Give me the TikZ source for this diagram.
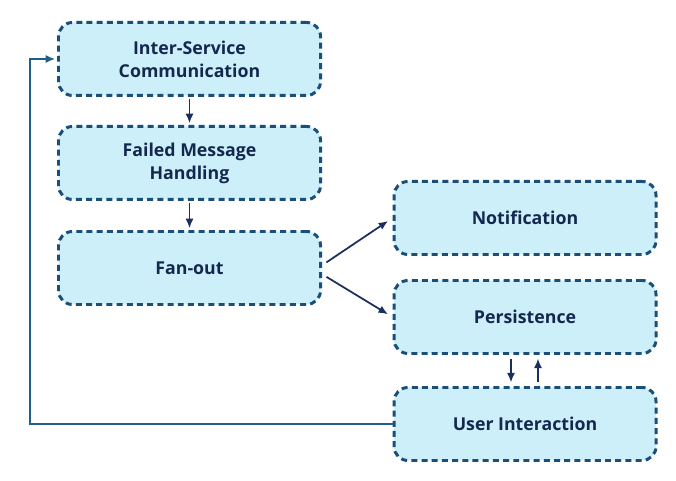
\documentclass[tikz,border=0pt]{standalone}
\usepackage{fontspec}
\setmainfont{Open Sans}
\usetikzlibrary{positioning,arrows.meta,calc}
\definecolor{boxfill}{HTML}{CCEFF9}
\definecolor{boxline}{HTML}{1A4F7A}
\definecolor{textnavy}{HTML}{14284F}
\definecolor{arrownavy}{HTML}{1B2F5E}
\definecolor{loopblue}{HTML}{1F5F8C}

\tikzset{
  stagebox/.style={rounded corners=0.28cm, fill=boxfill, draw=boxline, line width=1.7pt,
    dash pattern=on 3.4pt off 2.4pt, minimum width=5.24cm, minimum height=1.46cm,
    align=center, text=textnavy, font=\fontsize{10.1}{13}\selectfont\bfseries},
  flow/.style={draw=arrownavy, line width=1pt, -{Latex[length=1.9mm,width=1.6mm]}}
}

\begin{document}
\begin{tikzpicture}[x=1cm,y=1cm]
\useasboundingbox (0,0) rectangle (13.52,9.62);
% left column
\node[stagebox] (isc) at (3.79,8.44) {Inter-Service\\Communication};
\node[stagebox] (fmh) at (3.79,6.36) {Failed Message\\Handling};
\node[stagebox] (fan) at (3.79,4.26) {Fan-out};
% right column
\node[stagebox] (notif) at (10.5,5.26) {Notification};
\node[stagebox] (pers) at (10.5,3.28) {Persistence};
\node[stagebox] (user) at (10.5,1.14) {User Interaction};
\coordinate (loop) at (0.6,1.14);

\draw[flow, shorten <=1pt, shorten >=1pt] (isc) -- (fmh);
\draw[flow, shorten <=1pt, shorten >=1pt] (fmh) -- (fan);
\draw[flow, shorten <=3pt, shorten >=3pt] ([yshift=1.5pt]fan.east) -- (notif.west);
\draw[flow, shorten <=3pt, shorten >=3pt] ([yshift=-3.5pt]fan.east) -- (pers.west);
\draw[flow, shorten <=2pt, shorten >=2pt] ([xshift=-0.28cm]pers.south) -- ([xshift=-0.28cm]user.north);
\draw[flow, shorten <=2pt, shorten >=2pt] ([xshift=0.26cm]user.north) -- ([xshift=0.26cm]pers.south);
% feedback back to the top
\draw[flow, draw=loopblue, shorten >=1pt] (user.west) -- (loop) |- (isc.west);
\end{tikzpicture}
\end{document}
